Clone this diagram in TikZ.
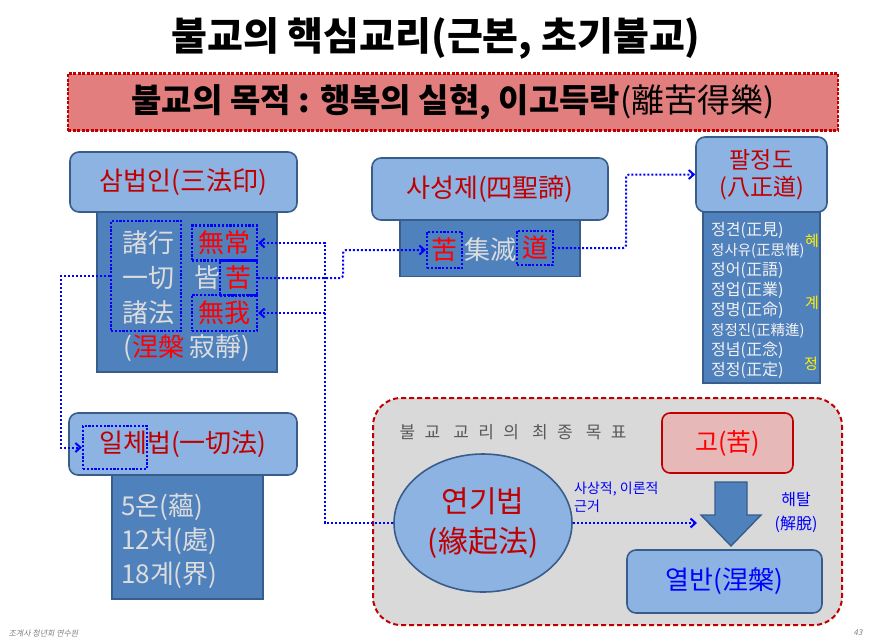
\documentclass[tikz,border=0pt]{standalone}
\usepackage{fontspec}
\setmainfont{Noto Sans CJK KR}
\newfontfamily\spacedfont[LetterSpace=55]{Noto Sans CJK KR}
\newfontfamily\footfont[FakeSlant=0.2]{Noto Sans CJK KR}
\usetikzlibrary{positioning,shapes.geometric,arrows.meta}
\definecolor{hdrblue}{HTML}{8DB3E2}
\definecolor{bodyblue}{HTML}{4F81BD}
\definecolor{edgeblue}{HTML}{385D8A}
\definecolor{darkred}{HTML}{C00000}
\definecolor{banner}{HTML}{E37E7E}
\definecolor{softgray}{HTML}{D9D9D9}
\definecolor{pinkbox}{HTML}{E6B9B8}
\definecolor{lighttxt}{HTML}{DCDCDC}
\newcommand\fsz[2]{\fontsize{#1}{#2}\selectfont}
\begin{document}
\begin{tikzpicture}[x=1pt,y=-1pt,
  hdr/.style={draw=edgeblue,line width=1.6pt,fill=hdrblue,rounded corners=9pt,
    text=darkred,inner sep=0pt,font=\fsz{26}{30}},
  body/.style={draw=edgeblue,line width=1.6pt,fill=bodyblue,inner sep=0pt},
  txt/.style={text=lighttxt,inner sep=0pt,font=\fsz{26}{34}},
  dotbox/.style={draw=blue,line width=2.2pt,dash pattern=on 2.2pt off 1.6pt,
    inner sep=0pt,text=red,font=\fsz{26}{30}},
  link/.style={blue,line width=2pt,dash pattern=on 2pt off 2pt,
    -{Straight Barb[length=5pt,width=9pt]}},
  yel/.style={text=yellow,inner sep=0pt,font=\fsz{15}{18}}]
  \useasboundingbox (0,0) rectangle (871,641);
  % title and purpose banner
  \node[font=\fsz{39}{44}\bfseries] (title) at (436,38) {불교의 핵심교리(근본, 초기불교)};
  \node[draw=darkred,fill=banner,line width=2.6pt,dash pattern=on 3pt off 1.5pt,
    minimum width=770,minimum height=57,font=\fsz{33}{36}\bfseries] (purpose) at (453,102)
    {불교의 목적 : 행복의 실현, 이고득락{\mdseries(離苦得樂)}};
  % 삼법인
  \node[body,minimum width=180,minimum height=160] (sambody) at (187,292) {};
  \node[hdr,minimum width=227,minimum height=60] (samhdr) at (183.5,182) {삼법인(三法印)};
  \node[txt] (jehaeng) at (148,243) {諸行};
  \node[txt] (ilchul) at (148,278) {一切};
  \node[txt] (jebeop) at (148,313) {諸法};
  \node[dotbox,minimum width=65,minimum height=35] (musang) at (224.5,243) {無常};
  \node[txt] (gae) at (207,278) {皆};
  \node[dotbox,minimum width=37,minimum height=35] (samgo) at (238.5,278) {苦};
  \node[dotbox,minimum width=65,minimum height=36] (mua) at (224.5,313) {無我};
  \node[txt] (jeokjeong) at (187,348) {(\textcolor{red}{涅槃} 寂靜)};
  \node[dotbox,minimum width=70,minimum height=110] (samleft) at (146,276) {};
  % 사성제
  \node[body,minimum width=180,minimum height=57] (sabody) at (490,248) {};
  \node[hdr,minimum width=236,minimum height=62] (sahdr) at (490,189) {사성제(四聖諦)};
  \node[dotbox,minimum width=35,minimum height=36] (sago) at (444.5,250) {苦};
  \node[txt] (sajip) at (490,250) {集滅};
  \node[dotbox,minimum width=36,minimum height=34] (sado) at (535,248) {道};
  % 팔정도
  \node[body,minimum width=117,minimum height=172] (palbody) at (761.5,297) {};
  \node[hdr,minimum width=131,minimum height=75,align=center,font=\fsz{23}{27}] (palhdr)
    at (761.5,174.5) {팔정도\\(八正道)};
  \node[txt,anchor=west,align=left,text=white!90!gray,font=\fsz{16}{20}] (palitems) at (711,300)
    {정견(正見)\\{\fsz{14.5}{20}정사유(正思惟)}\\정어(正語)\\정업(正業)\\정명(正命)\\
     {\fsz{14.5}{20}정정진(正精進)}\\정념(正念)\\정정(正定)};
  \node[yel] (hye) at (812,241) {혜};
  \node[yel] (gye) at (812,303) {계};
  \node[yel] (jeong) at (811,364) {정};
  % 일체법
  \node[body,minimum width=151,minimum height=124] (ilbody) at (187.5,537) {};
  \node[hdr,minimum width=228,minimum height=62] (ilhdr) at (183,444) {일체법(一切法)};
  \node[dotbox,minimum width=64,minimum height=43] (ilche) at (115,447.5) {};
  \node[txt,anchor=west,align=left] (ilitems) at (121,541) {5온(蘊)\\12처(處)\\18계(界)};
  % 최종 목표
  \node[draw=darkred,fill=softgray,line width=2pt,dash pattern=on 5pt off 3pt,
    rounded corners=28pt,minimum width=469,minimum height=227] (goalarea) at (607.5,511.5) {};
  \node[anchor=west,text=black!65,font=\fsz{17}{20}\spacedfont] (goaltitle) at (396,432)
    {불교 교리의 최종 목표};
  \node[draw=red!75!black,fill=pinkbox,line width=1.6pt,rounded corners=8pt,
    minimum width=131,minimum height=60,text=red,font=\fsz{25}{30}] (gobox) at (727.5,443) {고(苦)};
  \node[ellipse,draw=edgeblue,fill=hdrblue,line width=1.6pt,minimum width=178,minimum height=138,
    align=center,text=darkred,font=\fsz{30}{40}] (yeongi) at (483,523) {연기법\\(緣起法)};
  \node[hdr,text=blue,minimum width=195,minimum height=63] (yeolban) at (724.5,581.5) {열반(涅槃)};
  \draw[draw=edgeblue,fill=bodyblue,line width=1.4pt] (715,482) -- (747,482) -- (747,515)
    -- (761,515) -- (731,546) -- (701,515) -- (715,515) -- cycle;
  \node[text=blue,align=center,font=\fsz{16}{24}] (haetal) at (796,512) {해탈\\(解脫)};
  \node[text=blue,align=left,anchor=north west,inner sep=0pt,font=\fsz{14}{18}] (geungeo)
    at (574,482) {사상적, 이론적\\근거};
  \coordinate (reach) at (697,523);
  % links
  \coordinate (turn) at (325,523);
  \draw[link] (yeongi.west) -- (turn) |- (musang.east);
  \draw[link] (turn |- mua.east) -- (mua.east);
  \draw[link,rounded corners=3pt] (samgo.east) -- ++(85,0) |- (sago.west);
  \draw[link,rounded corners=3pt] (sado.east) -- ++(72,0) |- (palhdr.west);
  \draw[link] (samleft.west) -- ++(-49,0) |- (ilche.west);
  \draw[link] (yeongi.east) -- (reach);
  % footer
  \node[anchor=west,text=gray,font=\fsz{8}{10}\footfont] (footer) at (5,633) {조계사 청년회 연수원};
  \node[text=gray,font=\fsz{8}{10}\footfont] (pageno) at (858,633) {43};
\end{tikzpicture}
\end{document}
